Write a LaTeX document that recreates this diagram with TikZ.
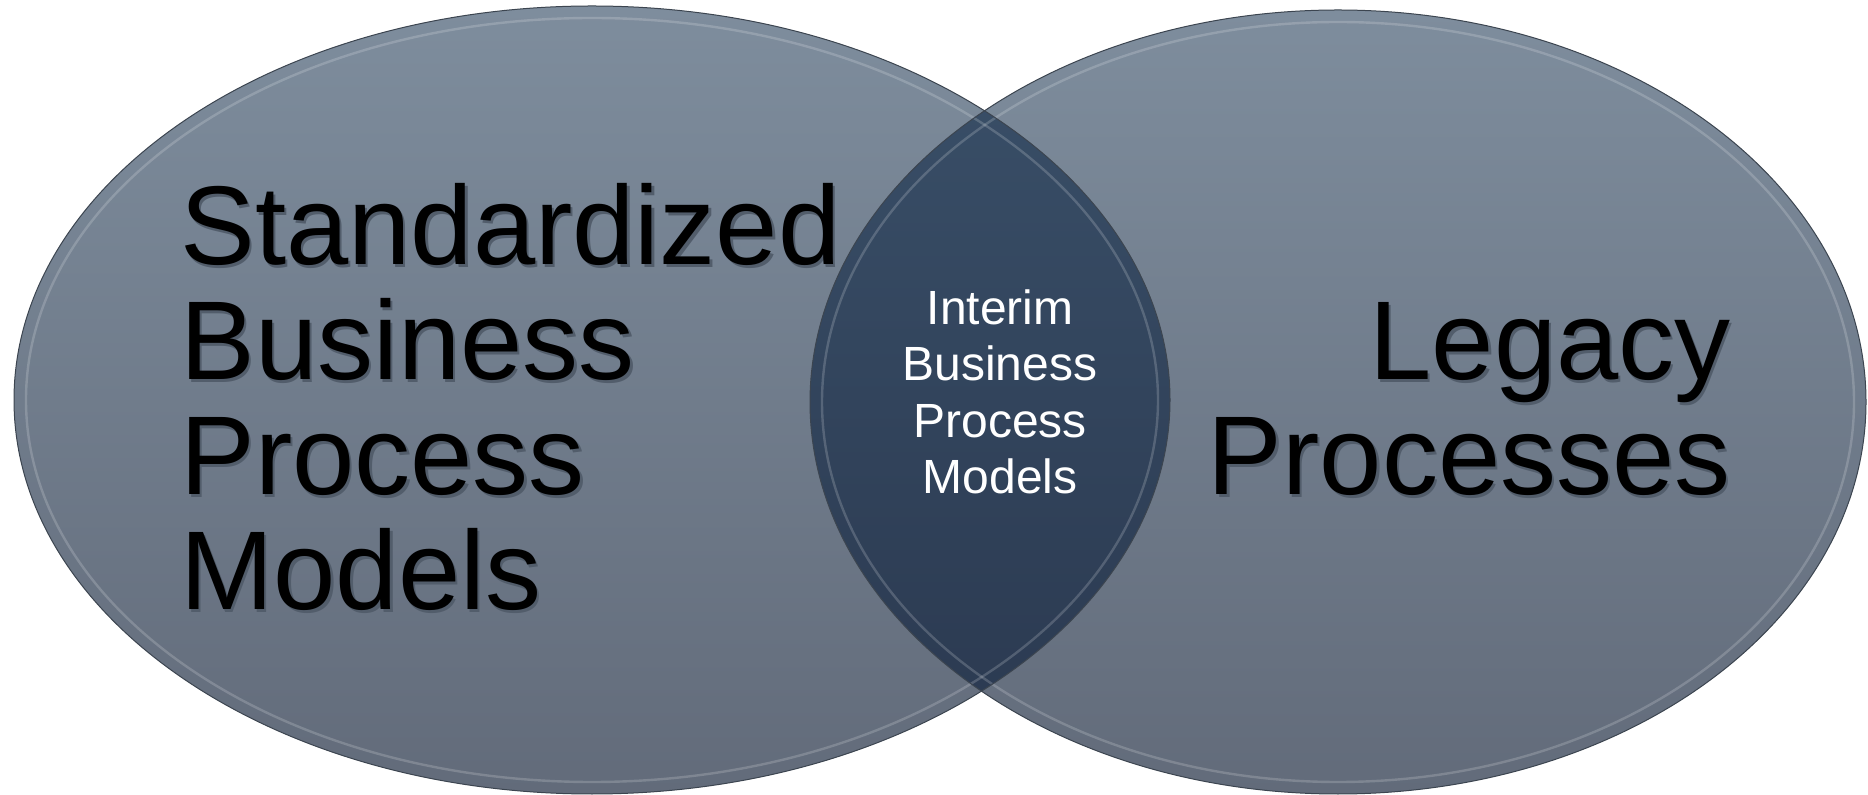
\documentclass[tikz,border=0pt]{standalone}
\usepackage{fontspec}
\setmainfont{Liberation Sans}
\definecolor{settop}{HTML}{7E8D9D}
\definecolor{setbot}{HTML}{626B7A}
\definecolor{lenstop}{HTML}{3A5069}
\definecolor{lensbot}{HTML}{2A384F}
\definecolor{rimline}{HTML}{3C4550}
\definecolor{txtshadow}{HTML}{525D6B}
% black text with a small drop shadow
\newcommand{\shd}[1]{\makebox[0pt][l]{\hspace{1.2pt}\raisebox{-1.5pt}{\color{txtshadow}#1}}#1}
\tikzset{
  bigtext/.style={font=\fontsize{56}{57.5}\selectfont, text=black, inner sep=0pt},
  smalltext/.style={font=\fontsize{24}{28.5}\selectfont, text=white, inner sep=0pt},
  rim/.style={draw=white, draw opacity=.18, line width=1.2pt},
  edge/.style={draw=rimline, line width=.5pt}
}
\begin{document}
\begin{tikzpicture}[x=0.5pt,y=-0.5pt]
\useasboundingbox (0,0) rectangle (1868,795);
% the two sets
\shade[top color=settop, bottom color=setbot] (592,400) ellipse [x radius=578, y radius=394];
\shade[top color=settop, bottom color=setbot] (1338,402) ellipse [x radius=528, y radius=392];
% overlap
\begin{scope}
\clip (592,400) ellipse [x radius=578, y radius=394];
\shade[top color=lenstop, bottom color=lensbot] (1338,402) ellipse [x radius=528, y radius=392];
\end{scope}
\path[rim] (592,400) ellipse [x radius=566, y radius=382];
\path[rim] (1338,402) ellipse [x radius=516, y radius=380];
\path[edge] (592,400) ellipse [x radius=578, y radius=394];
\path[edge] (1338,402) ellipse [x radius=528, y radius=392];
\path
	(180,265) node [bigtext, anchor=base west] (std1) {\shd{Standardized}}
	(180,380) node [bigtext, anchor=base west] (std2) {\shd{Business}}
	(180,495) node [bigtext, anchor=base west] (std3) {\shd{Process}}
	(180,610) node [bigtext, anchor=base west] (std4) {\shd{Models}};
\path
	(1000,325) node [smalltext, anchor=base] (mid1) {Interim}
	(1000,381) node [smalltext, anchor=base] (mid2) {Business}
	(1000,438) node [smalltext, anchor=base] (mid3) {Process}
	(1000,494) node [smalltext, anchor=base] (mid4) {Models};
\path
	(1731,380) node [bigtext, anchor=base east] (leg1) {\shd{Legacy}}
	(1731,495) node [bigtext, anchor=base east] (leg2) {\shd{Processes}};
\end{tikzpicture}
\end{document}
